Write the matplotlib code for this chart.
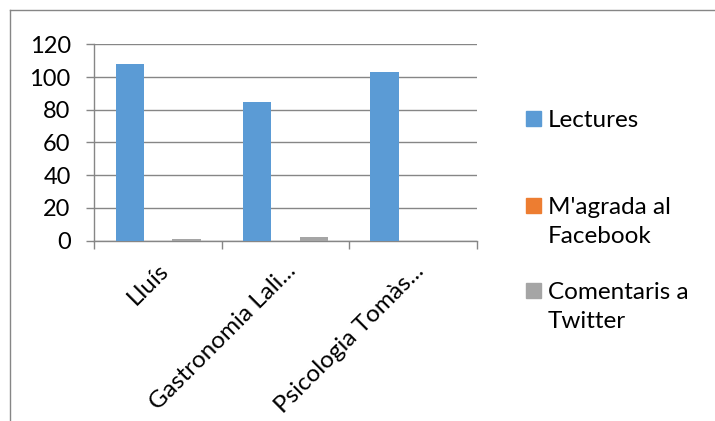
import matplotlib
matplotlib.use("Agg")
import matplotlib.pyplot as plt
import numpy as np
from matplotlib.patches import Rectangle
from matplotlib.lines import Line2D

categories = ["Lluís", "Gastronomia Lali...", "Psicologia Tomàs..."]
series_names = ["Lectures", "M'agrada al\nFacebook", "Comentaris a\nTwitter"]
lectures = [108, 85, 103]
facebook = [0, 0, 0]
twitter = [1, 2, 0]
colors = ["#5B9BD5", "#ED7D31", "#A5A5A5"]
yticks = [0, 20, 40, 60, 80, 100, 120]

plt.rcParams['font.family'] = ['Lato', 'DejaVu Sans']
fig = plt.figure(figsize=(7.15, 4.21), dpi=100)
ax = fig.add_axes([0.1319, 0.4283, 0.5348, 0.4665])

x = np.arange(len(categories))
w = 1 / 4.5
for i, vals in enumerate([lectures, facebook, twitter]):
    ax.bar(x + (i - 1) * w, vals, w, color=colors[i], zorder=3)

ax.set_xlim(-0.5, len(categories) - 0.5)
ax.set_ylim(0, 120)
ax.set_yticks(yticks)
ax.set_yticklabels([str(v) for v in yticks], fontsize=17)
ax.grid(axis='y', color='#868686', linewidth=1, zorder=0)
ax.tick_params(axis='y', length=6, color='#868686', pad=11, width=1)

# category boundary ticks
ax.set_xticks(np.arange(-0.5, len(categories)), minor=False)
ax.set_xticklabels([])
ax.tick_params(axis='x', which='major', length=6, color='#868686', width=1)
ax.set_xticks(x, minor=True)
ax.set_xticklabels(categories, minor=True, rotation=45, ha='right',
                   rotation_mode='anchor', fontsize=17.5)
ax.tick_params(axis='x', which='minor', length=0, pad=14)

for s in ['top', 'right']:
    ax.spines[s].set_visible(False)
for s in ['left', 'bottom']:
    ax.spines[s].set_color('#868686')
    ax.spines[s].set_linewidth(1)

# chart border (left and top visible)
fig.add_artist(Line2D([10 / 715, 10 / 715], [0, 1 - 10 / 421], color='#868686', lw=1))
fig.add_artist(Line2D([10 / 715, 1], [1 - 10 / 421, 1 - 10 / 421], color='#868686', lw=1))

# legend drawn manually to match the spacing
marker_y = [118, 205, 290]
for name, c, my in zip(series_names, colors, marker_y):
    fig.add_artist(Rectangle((526 / 715, 1 - (my + 7.5) / 421), 15 / 715, 15 / 421,
                             transform=fig.transFigure, color=c))
    fig.text(548 / 715, 1 - (my - 8) / 421, name, fontsize=17.5, va='top',
             ha='left', linespacing=1.45)

fig.savefig("out.png", dpi=100)
